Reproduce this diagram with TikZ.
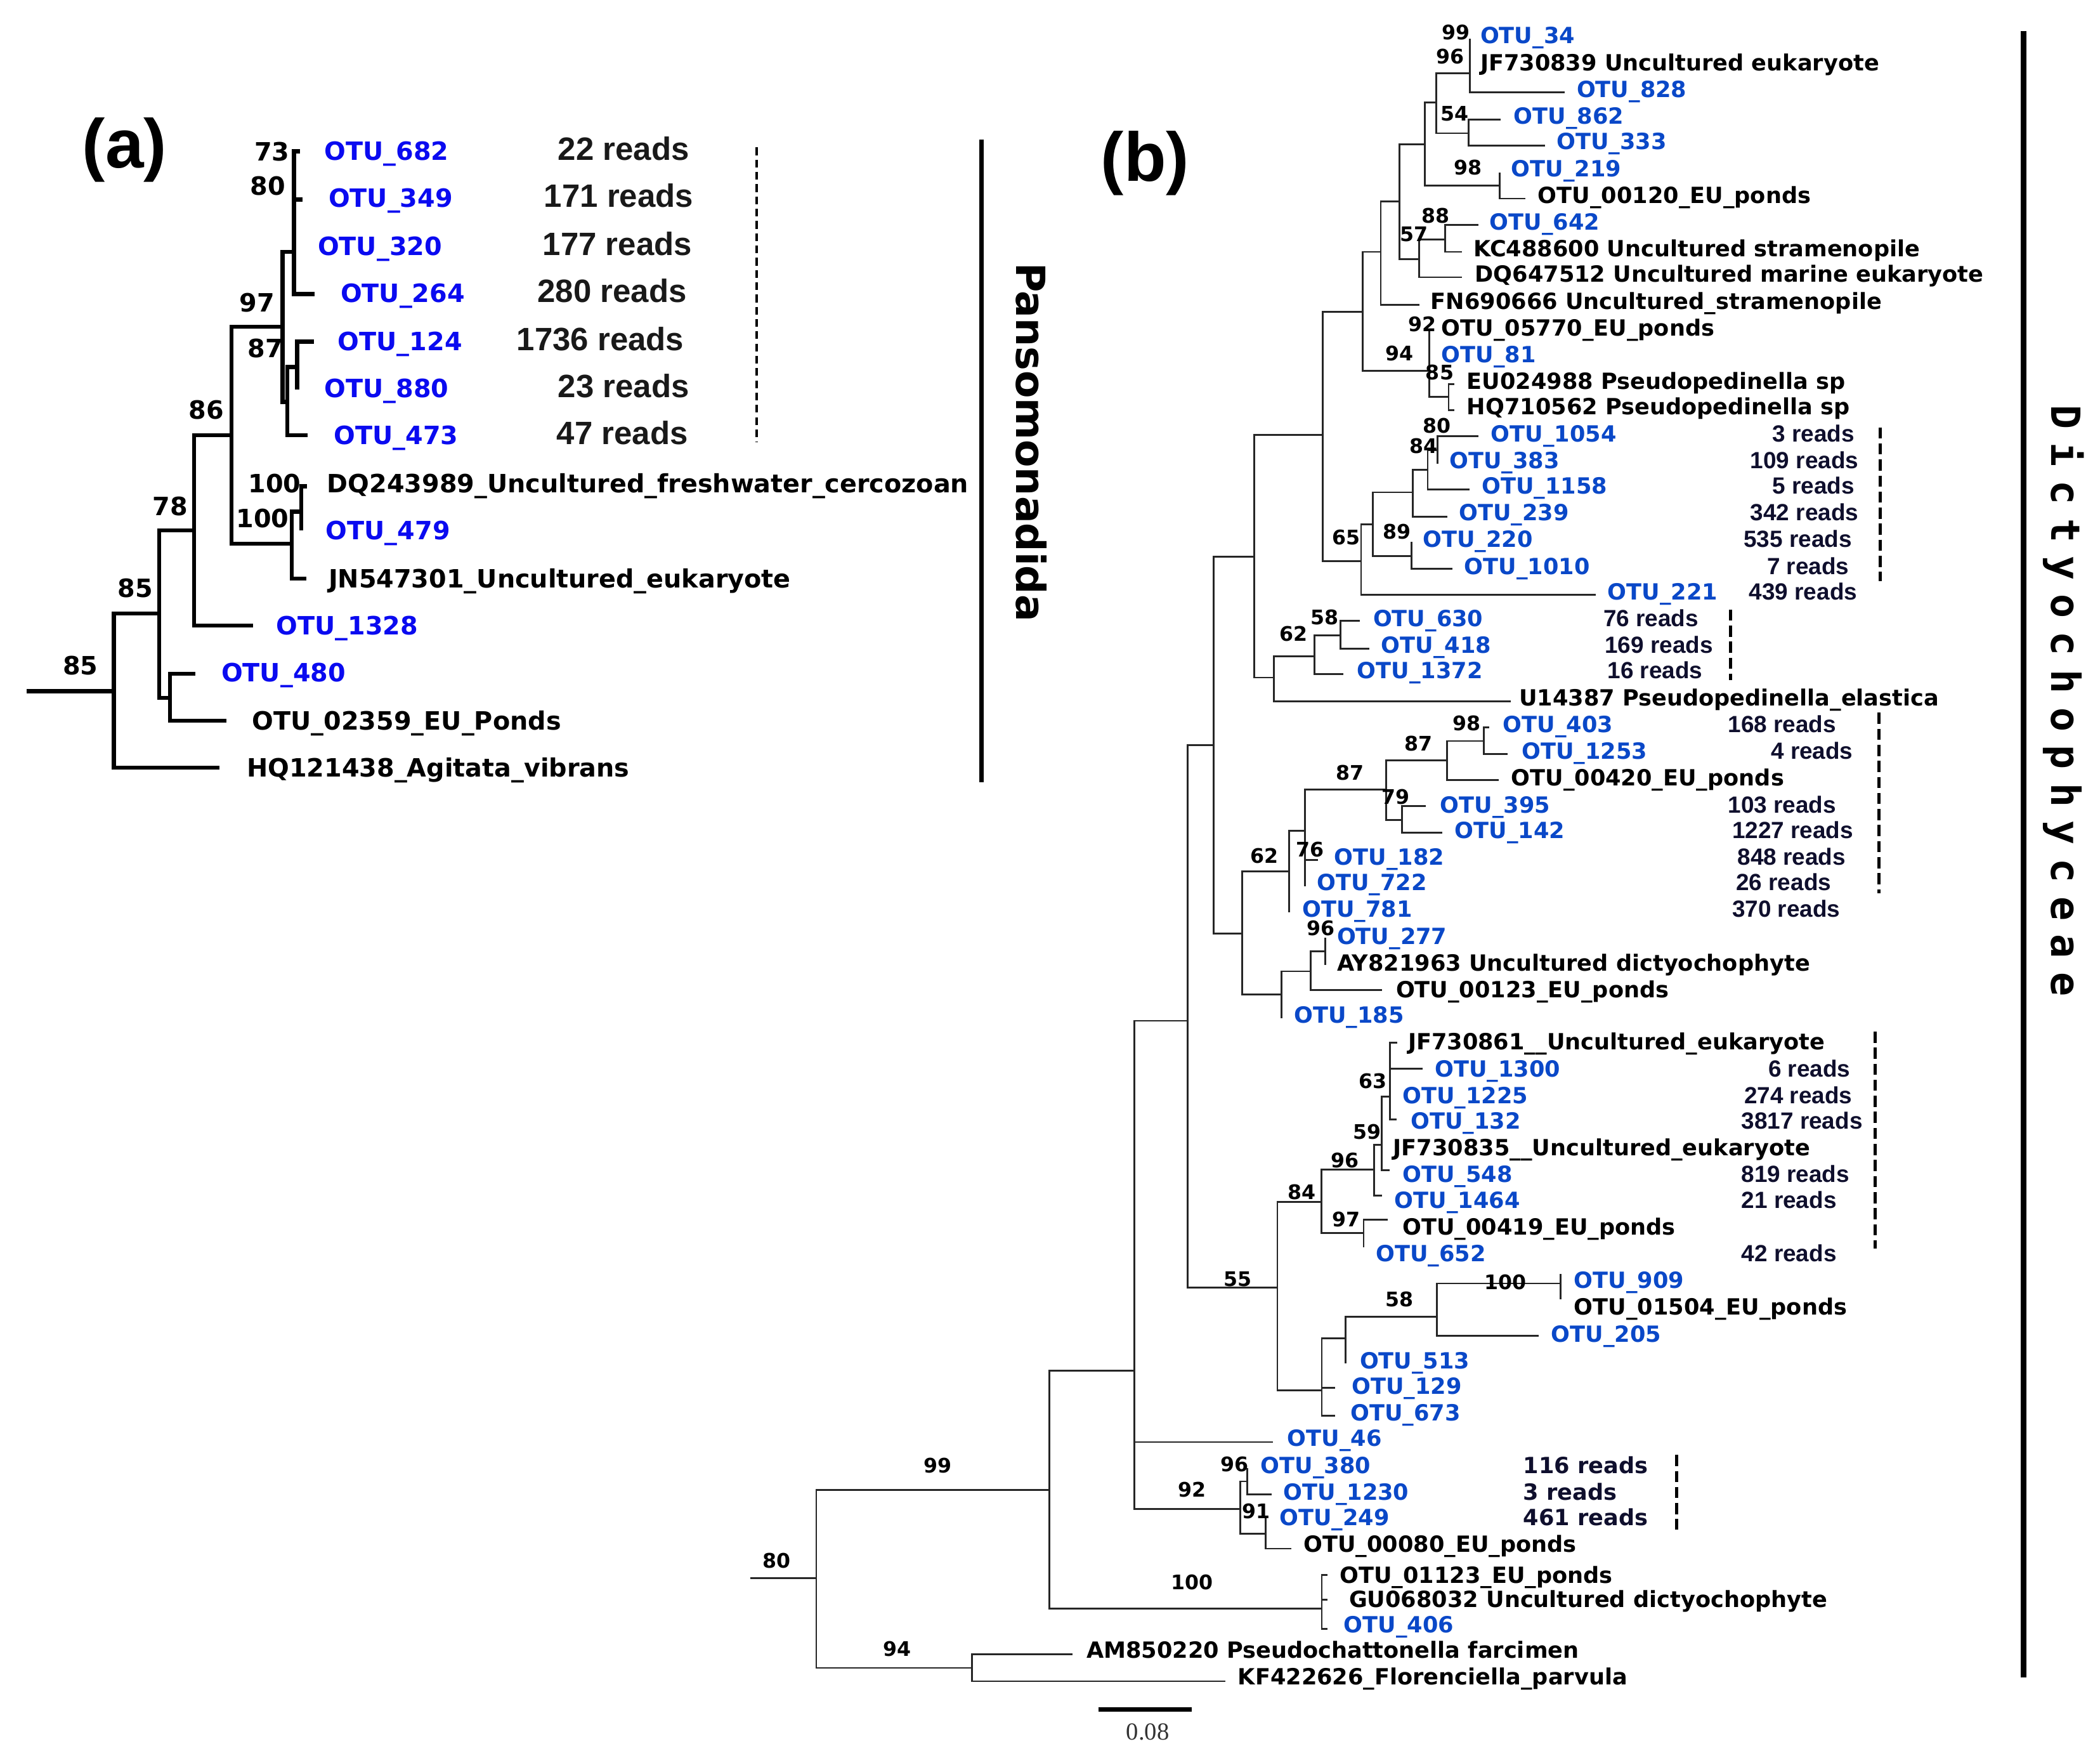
\documentclass[tikz,border=0pt]{standalone}
\usepackage{fontspec}
\setmainfont{DejaVu Sans}
\newfontfamily\libsans{Liberation Sans}
\newfontfamily\libserif{Liberation Serif}
\newfontfamily\spacedmono[LetterSpace=34]{DejaVu Sans Mono}
\definecolor{blueA}{RGB}{10,10,240}
\definecolor{blueB}{RGB}{10,72,200}
\definecolor{navyB}{RGB}{15,15,45}
\tikzset{
 brA/.style={line width=1.8pt},
 brB/.style={line width=0.8pt, black!85},
 labA/.style={inner sep=0pt, anchor=mid west, yshift=-0.045cm, font=\fontsize{11.3}{13}\selectfont\bfseries},
 otuA/.style={labA, text=blueA},
 rdA/.style={inner sep=0pt, anchor=mid east, yshift=-0.045cm, font=\libsans\fontsize{14.5}{16}\selectfont\bfseries, text=black!90},
 bsA/.style={inner sep=0pt, font=\fontsize{11.3}{13}\selectfont\bfseries},
 labB/.style={inner sep=0pt, anchor=mid west, yshift=-0.045cm, font=\fontsize{10}{12}\selectfont\bfseries},
 otuB/.style={labB, text=blueB},
 rdB/.style={inner sep=0pt, anchor=mid west, yshift=-0.045cm, font=\libsans\fontsize{10.5}{12}\selectfont\bfseries, text=navyB},
 rdBe/.style={rdB, anchor=mid east},
 rdBd/.style={labB, text=navyB},
 bsB/.style={inner sep=0pt, font=\fontsize{9}{11}\selectfont\bfseries},
 dashA/.style={line width=1.2pt, dash pattern=on 3.5pt off 2pt},
 dashB/.style={line width=1.5pt, dash pattern=on 5pt off 2.2pt},
 cladebar/.style={line width=2.4pt},
 title/.style={inner sep=0pt, font=\libsans\fontsize{31}{34}\selectfont\bfseries},
}
\begin{document}
\begin{tikzpicture}[x=0.021116cm,y=-0.021116cm]
\fill[white] (0,0) rectangle (1568,1312);
\useasboundingbox (0,0) rectangle (1568,1312);

% ================= (a) =================
\node[title] (ta) at (93,112) {(a)};
\coordinate (aR) at (20,516);
\coordinate (an85) at (85,516);
\coordinate (an85b) at (119,458);
\coordinate (an127) at (127,521);
\coordinate (an78) at (145,396);
\coordinate (an86) at (173,325);
\coordinate (an100) at (218,406);
\coordinate (an100b) at (225,382);
\coordinate (an97) at (211,244);
\coordinate (anU) at (219.5,188);
\coordinate (an87) at (214.5,300);
\coordinate (an221) at (221.8,274);
\coordinate (at682) at (224,113);
\coordinate (at349) at (226,149);
\coordinate (at320) at (219.5,184);
\coordinate (at264) at (235,219.5);
\coordinate (at124) at (234.6,255);
\coordinate (at880) at (221.8,291);
\coordinate (at473) at (229.5,325);
\coordinate (atDQ) at (229,363);
\coordinate (at479) at (225,396);
\coordinate (atJN) at (228.5,432);
\coordinate (at1328) at (189,467);
\coordinate (at480) at (146,503);
\coordinate (at02359) at (169,538);
\coordinate (atHQ) at (164,573);

\draw[brA] (aR) -- (an85);
\draw[brA] (an85) |- (an85b) (an85) |- (atHQ);
\draw[brA] (an85b) |- (an78) (an85b) |- (an127);
\draw[brA] (an127) |- (at480) (an127) |- (at02359);
\draw[brA] (an78) |- (an86) (an78) |- (at1328);
\draw[brA] (an86) |- (an97) (an86) |- (an100);
\draw[brA] (an100) |- (an100b) (an100) |- (atJN);
\draw[brA] (an100b) |- (atDQ) (an100b) |- (at479);
\draw[brA] (an97) |- (anU) (an97) |- (an87);
\draw[brA] (anU) |- (at682) (anU) |- (at349) (anU) |- (at320) (anU) |- (at264);
\draw[brA] (an87) |- (an221) (an87) |- (at473);
\draw[brA] (an221) |- (at124) (an221) |- (at880);

\node[otuA] (aL682) at (242,113) {OTU\_682};
\node[otuA] (aL349) at (245,148) {OTU\_349};
\node[otuA] (aL320) at (237,184) {OTU\_320};
\node[otuA] (aL264) at (254,219) {OTU\_264};
\node[otuA] (aL124) at (252,255) {OTU\_124};
\node[otuA] (aL880) at (242,290) {OTU\_880};
\node[otuA] (aL473) at (249,325) {OTU\_473};
\node[labA] (aLDQ) at (244,361) {DQ243989\_Uncultured\_freshwater\_cercozoan};
\node[otuA] (aL479) at (243,396) {OTU\_479};
\node[labA] (aLJN) at (245,432) {JN547301\_Uncultured\_eukaryote};
\node[otuA] (aL1328) at (206,467) {OTU\_1328};
\node[otuA] (aL480) at (165,502) {OTU\_480};
\node[labA] (aL02359) at (188,538) {OTU\_02359\_EU\_Ponds};
\node[labA] (aLHQ) at (184,573) {HQ121438\_Agitata\_vibrans};

\node[rdA] (aR682) at (515,113) {22 reads};
\node[rdA] (aR349) at (518,148) {171 reads};
\node[rdA] (aR320) at (517,184) {177 reads};
\node[rdA] (aR264) at (513,219) {280 reads};
\node[rdA] (aR124) at (511,255) {1736 reads};
\node[rdA] (aR880) at (515,290) {23 reads};
\node[rdA] (aR473) at (514,325) {47 reads};

\node[bsA] (abs1) at (60,497) {85};
\node[bsA] (abs2) at (101,439) {85};
\node[bsA] (abs3) at (127,378) {78};
\node[bsA] (abs4) at (154,306) {86};
\node[bsA] (abs5) at (192,226) {97};
\node[bsA] (abs6) at (198,260) {87};
\node[bsA] (abs7) at (203,113) {73};
\node[bsA] (abs8) at (200,139) {80};
\node[bsA] (abs9) at (205,361) {100};
\node[bsA] (abs10) at (196,387) {100};

\coordinate (adash1) at (565,110); \coordinate (adash2) at (565,330);
\draw[dashA] (adash1) -- (adash2);
\coordinate (abar1) at (733,104); \coordinate (abar2) at (733,584);
\draw[line width=2pt] (abar1) -- (abar2);
\node[inner sep=0pt, rotate=-90, font=\fontsize{18}{20}\selectfont\bfseries] (aclade) at (770,330) {Pansomonadida};

% ================= (b) =================
\node[title] (tb) at (855,122) {(b)};
\coordinate (bR) at (560,1178);
\coordinate (bn80) at (609.5,1178);
\coordinate (bn94) at (725.9,1245);
\coordinate (bn99) at (783.5,1112);
\coordinate (bn100b) at (986.9,1200.6);
\coordinate (bn846) at (847.1,1023);
\coordinate (bn886) at (886.8,762);
\coordinate (bn92) at (926,1126.5);
\coordinate (bn96c) at (931.4,1105.8);
\coordinate (bn91) at (945,1145);
\coordinate (bn55) at (953.8,961.1);
\coordinate (bn987) at (986.9,1037.9);
\coordinate (bn1005) at (1004.8,999.1);
\coordinate (bn58) at (1072.7,982.8);
\coordinate (bn100c) at (1165.4,958);
\coordinate (bn84) at (986.5,897);
\coordinate (bn97) at (1018.2,920.3);
\coordinate (bn96d) at (1025.9,873.2);
\coordinate (bn59) at (1031.8,854.7);
\coordinate (bn63) at (1037.7,818.4);
\coordinate (bn906) at (906.3,556.2);
\coordinate (bn927) at (927.6,696.8);
\coordinate (bn957) at (957,742.3);
\coordinate (bn979) at (978.8,725);
\coordinate (bn96e) at (989.6,710);
\coordinate (bn62b) at (962.5,650.4);
\coordinate (bn76) at (974.2,620.1);
\coordinate (bn87b) at (1035,589.2);
\coordinate (bn79) at (1046.7,612);
\coordinate (bn87c) at (1080.4,567.7);
\coordinate (bn98b) at (1107.9,553.1);
\coordinate (bn936) at (936.5,415.4);
\coordinate (bn951) at (951,505.8);
\coordinate (bn62c) at (981.5,489.8);
\coordinate (bn58b) at (1000.8,474.2);
\coordinate (bn988) at (987.7,324.5);
\coordinate (bn65) at (1016.3,418.7);
\coordinate (bn1025) at (1025,391.3);
\coordinate (bn89) at (1054,415);
\coordinate (bn1055) at (1055,367.5);
\coordinate (bn84b) at (1066,350.8);
\coordinate (bn80b) at (1073.3,335.9);
\coordinate (bn1017) at (1017.4,232.6);
\coordinate (bn94b) at (1067,276.8);
\coordinate (bn85) at (1081.6,296.4);
\coordinate (bn1031) at (1031,188);
\coordinate (bn1045) at (1045,150.2);
\coordinate (bn57) at (1059.6,193.4);
\coordinate (bn88) at (1079,178.6);
\coordinate (bn1064) at (1064,107.6);
\coordinate (bn98) at (1119.7,138.4);
\coordinate (bn1072) at (1072.5,76.6);
\coordinate (bn54) at (1096.5,99.5);
\coordinate (bn96) at (1097.3,54.6);

% tips
\coordinate (btAM) at (800.9,1235);
\coordinate (btKF) at (915.1,1255);
\coordinate (bt01123) at (991,1175.5);
\coordinate (btGU) at (991,1194);
\coordinate (bt406) at (991,1215.8);
\coordinate (bt46) at (950.4,1076.4);
\coordinate (bt380) at (931.4,1096);
\coordinate (bt1230) at (949.3,1115.6);
\coordinate (bt249) at (945,1132);
\coordinate (bt00080) at (964,1156);
\coordinate (bt513) at (1004.8,1017.6);
\coordinate (bt129) at (997,1036);
\coordinate (bt673) at (997,1056.8);
\coordinate (bt205) at (1148.9,997);
\coordinate (bt909) at (1165.4,951);
\coordinate (bt01504) at (1165.4,970);
\coordinate (bt00419) at (1036.3,910.5);
\coordinate (bt652) at (1018.2,930.9);
\coordinate (bt1464) at (1031.8,892.4);
\coordinate (btJF835) at (1031.8,856);
\coordinate (bt548) at (1037.7,873.5);
\coordinate (btJF861) at (1043.1,778.4);
\coordinate (bt1300) at (1062.1,797.7);
\coordinate (bt1225) at (1037.7,817);
\coordinate (bt132) at (1043,835.8);
\coordinate (bt185) at (957,760.3);
\coordinate (bt00123) at (1031.8,739);
\coordinate (bt277) at (989.6,699.9);
\coordinate (btAY) at (989.6,720.3);
\coordinate (bt781) at (962.5,681);
\coordinate (bt182) at (984.2,641.8);
\coordinate (bt722) at (974.2,661.4);
\coordinate (bt395) at (1064.8,601.8);
\coordinate (bt142) at (1077.1,621.4);
\coordinate (bt00420) at (1119.2,582.1);
\coordinate (bt403) at (1112,542.9);
\coordinate (bt1253) at (1125.5,563);
\coordinate (btU14) at (1127.9,523.6);
\coordinate (bt1372) at (1003,503.3);
\coordinate (bt630) at (1015.3,463.5);
\coordinate (bt418) at (1022.5,484.4);
\coordinate (bt221) at (1191.7,444.1);
\coordinate (bt220) at (1054,404.4);
\coordinate (bt1010) at (1084.4,424.7);
\coordinate (bt239) at (1080.5,385.8);
\coordinate (bt1158) at (1097.4,365.5);
\coordinate (bt1054) at (1103.7,325.7);
\coordinate (bt383) at (1073.3,346);
\coordinate (bt05770) at (1067,246.4);
\coordinate (bt81) at (1067,264);
\coordinate (btEU) at (1086,286.6);
\coordinate (btHQ) at (1086,306);
\coordinate (btFN) at (1059.7,227.7);
\coordinate (btDQ) at (1091.4,207);
\coordinate (bt642) at (1104,167.8);
\coordinate (btKC) at (1091.4,188);
\coordinate (bt219) at (1119.7,128.6);
\coordinate (bt00120) at (1138.7,148.2);
\coordinate (bt862) at (1120.6,89.3);
\coordinate (bt333) at (1153.5,108.6);
\coordinate (bt34) at (1097.3,29);
\coordinate (btJF839) at (1097.3,49);
\coordinate (bt828) at (1168.3,69);

% branches
\draw[brB] (bR) -- (bn80);
\draw[brB] (bn80) |- (bn99) (bn80) |- (bn94);
\draw[brB] (bn94) |- (btAM) (bn94) |- (btKF);
\draw[brB] (bn99) |- (bn846) (bn99) |- (bn100b);
\draw[brB] (bn100b) |- (bt01123) (bn100b) |- (btGU) (bn100b) |- (bt406);
\draw[brB] (bn846) |- (bn886) (bn846) |- (bt46) (bn846) |- (bn92);
\draw[brB] (bn92) |- (bn96c) (bn92) |- (bn91);
\draw[brB] (bn96c) |- (bt380) (bn96c) |- (bt1230);
\draw[brB] (bn91) |- (bt249) (bn91) |- (bt00080);
\draw[brB] (bn886) |- (bn906) (bn886) |- (bn55);
\draw[brB] (bn55) |- (bn84) (bn55) |- (bn987);
\draw[brB] (bn987) |- (bn1005) (bn987) |- (bt129) (bn987) |- (bt673);
\draw[brB] (bn1005) |- (bn58) (bn1005) |- (bt513);
\draw[brB] (bn58) |- (bn100c) (bn58) |- (bt205);
\draw[brB] (bn100c) |- (bt909) (bn100c) |- (bt01504);
\draw[brB] (bn84) |- (bn96d) (bn84) |- (bn97);
\draw[brB] (bn97) |- (bt00419) (bn97) |- (bt652);
\draw[brB] (bn96d) |- (bn59) (bn96d) |- (bt1464);
\draw[brB] (bn59) |- (bn63) (bn59) |- (btJF835) (bn59) |- (bt548);
\draw[brB] (bn63) |- (btJF861) (bn63) |- (bt1300) (bn63) |- (bt1225) (bn63) |- (bt132);
\draw[brB] (bn906) |- (bn936) (bn906) |- (bn927);
\draw[brB] (bn927) |- (bn62b) (bn927) |- (bn957);
\draw[brB] (bn957) |- (bn979) (bn957) |- (bt185);
\draw[brB] (bn979) |- (bn96e) (bn979) |- (bt00123);
\draw[brB] (bn96e) |- (bt277) (bn96e) |- (btAY);
\draw[brB] (bn62b) |- (bn76) (bn62b) |- (bt781);
\draw[brB] (bn76) |- (bn87b) (bn76) |- (bt182) (bn76) |- (bt722);
\draw[brB] (bn87b) |- (bn87c) (bn87b) |- (bn79);
\draw[brB] (bn79) |- (bt395) (bn79) |- (bt142);
\draw[brB] (bn87c) |- (bn98b) (bn87c) |- (bt00420);
\draw[brB] (bn98b) |- (bt403) (bn98b) |- (bt1253);
\draw[brB] (bn936) |- (bn988) (bn936) |- (bn951);
\draw[brB] (bn951) |- (bn62c) (bn951) |- (btU14);
\draw[brB] (bn62c) |- (bn58b) (bn62c) |- (bt1372);
\draw[brB] (bn58b) |- (bt630) (bn58b) |- (bt418);
\draw[brB] (bn988) |- (bn1017) (bn988) |- (bn65);
\draw[brB] (bn65) |- (bn1025) (bn65) |- (bt221);
\draw[brB] (bn1025) |- (bn1055) (bn1025) |- (bn89);
\draw[brB] (bn89) |- (bt220) (bn89) |- (bt1010);
\draw[brB] (bn1055) |- (bn84b) (bn1055) |- (bt239);
\draw[brB] (bn84b) |- (bn80b) (bn84b) |- (bt1158);
\draw[brB] (bn80b) |- (bt1054) (bn80b) |- (bt383);
\draw[brB] (bn1017) |- (bn1031) (bn1017) |- (bn94b);
\draw[brB] (bn94b) |- (bt05770) (bn94b) |- (bt81) (bn94b) |- (bn85);
\draw[brB] (bn85) |- (btEU) (bn85) |- (btHQ);
\draw[brB] (bn1031) |- (bn1045) (bn1031) |- (btFN);
\draw[brB] (bn1045) |- (bn1064) (bn1045) |- (bn57);
\draw[brB] (bn57) |- (bn88) (bn57) |- (btDQ);
\draw[brB] (bn88) |- (bt642) (bn88) |- (btKC);
\draw[brB] (bn1064) |- (bn1072) (bn1064) |- (bn98);
\draw[brB] (bn98) |- (bt219) (bn98) |- (bt00120);
\draw[brB] (bn1072) |- (bn96) (bn1072) |- (bn54);
\draw[brB] (bn54) |- (bt862) (bn54) |- (bt333);
\draw[brB] (bn96) |- (bt34) (bn96) |- (btJF839) (bn96) |- (bt828);

% leaf labels
\node[otuB] (bL34) at (1105,26) {OTU\_34};
\node[labB] (bLJF839) at (1105,46) {JF730839 Uncultured eukaryote};
\node[otuB] (bL828) at (1177,66) {OTU\_828};
\node[otuB] (bL862) at (1130,86) {OTU\_862};
\node[otuB] (bL333) at (1162,105) {OTU\_333};
\node[otuB] (bL219) at (1128,125) {OTU\_219};
\node[labB] (bL00120) at (1148,145) {OTU\_00120\_EU\_ponds};
\node[otuB] (bL642) at (1112,165) {OTU\_642};
\node[labB] (bLKC) at (1100,185) {KC488600 Uncultured stramenopile};
\node[labB] (bLDQ) at (1101,204) {DQ647512 Uncultured marine eukaryote};
\node[labB] (bLFN) at (1068,224) {FN690666 Uncultured\_stramenopile};
\node[labB] (bL05770) at (1076,244) {OTU\_05770\_EU\_ponds};
\node[otuB] (bL81) at (1076,264) {OTU\_81};
\node[labB] (bLEU) at (1095,284) {EU024988 Pseudopedinella sp};
\node[labB] (bLHQ) at (1095,303) {HQ710562 Pseudopedinella sp};
\node[otuB] (bL1054) at (1113,323) {OTU\_1054};
\node[otuB] (bL383) at (1082,343) {OTU\_383};
\node[otuB] (bL1158) at (1106,362) {OTU\_1158};
\node[otuB] (bL239) at (1089,382) {OTU\_239};
\node[otuB] (bL220) at (1062,402) {OTU\_220};
\node[otuB] (bL1010) at (1093,422) {OTU\_1010};
\node[otuB] (bL221) at (1200,441) {OTU\_221};
\node[otuB] (bL630) at (1025,461) {OTU\_630};
\node[otuB] (bL418) at (1031,481) {OTU\_418};
\node[otuB] (bL1372) at (1013,500) {OTU\_1372};
\node[labB] (bLU14) at (1134,520) {U14387 Pseudopedinella\_elastica};
\node[otuB] (bL403) at (1122,540) {OTU\_403};
\node[otuB] (bL1253) at (1136,560) {OTU\_1253};
\node[labB] (bL00420) at (1128,580) {OTU\_00420\_EU\_ponds};
\node[otuB] (bL395) at (1075,600) {OTU\_395};
\node[otuB] (bL142) at (1086,619) {OTU\_142};
\node[otuB] (bL182) at (996,639) {OTU\_182};
\node[otuB] (bL722) at (983,658) {OTU\_722};
\node[otuB] (bL781) at (972,678) {OTU\_781};
\node[otuB] (bL277) at (998,698) {OTU\_277};
\node[labB] (bLAY) at (998,718) {AY821963 Uncultured dictyochophyte};
\node[labB] (bL00123) at (1042,738) {OTU\_00123\_EU\_ponds};
\node[otuB] (bL185) at (966,757) {OTU\_185};
\node[labB] (bLJF861) at (1051,777) {JF730861\_\_Uncultured\_eukaryote};
\node[otuB] (bL1300) at (1071,797) {OTU\_1300};
\node[otuB] (bL1225) at (1047,817) {OTU\_1225};
\node[otuB] (bL132) at (1053,836) {OTU\_132};
\node[labB] (bLJF835) at (1040,856) {JF730835\_\_Uncultured\_eukaryote};
\node[otuB] (bL548) at (1047,876) {OTU\_548};
\node[otuB] (bL1464) at (1041,895) {OTU\_1464};
\node[labB] (bL00419) at (1047,915) {OTU\_00419\_EU\_ponds};
\node[otuB] (bL652) at (1027,935) {OTU\_652};
\node[otuB] (bL909) at (1175,955) {OTU\_909};
\node[labB] (bL01504) at (1175,975) {OTU\_01504\_EU\_ponds};
\node[otuB] (bL205) at (1158,995) {OTU\_205};
\node[otuB] (bL513) at (1015,1015) {OTU\_513};
\node[otuB] (bL129) at (1009,1034) {OTU\_129};
\node[otuB] (bL673) at (1008,1054) {OTU\_673};
\node[otuB] (bL46) at (961,1073) {OTU\_46};
\node[otuB] (bL380) at (941,1093) {OTU\_380};
\node[otuB] (bL1230) at (958,1113) {OTU\_1230};
\node[otuB] (bL249) at (955,1132) {OTU\_249};
\node[labB] (bL00080) at (973,1152) {OTU\_00080\_EU\_ponds};
\node[labB] (bL01123) at (1000,1175) {OTU\_01123\_EU\_ponds};
\node[labB] (bLGU) at (1007,1193) {GU068032 Uncultured dictyochophyte};
\node[otuB] (bL406) at (1003,1212) {OTU\_406};
\node[labB] (bLAM) at (811,1231) {AM850220 Pseudochattonella farcimen};
\node[labB] (bLKF) at (924,1251) {KF422626\_Florenciella\_parvula};

% reads
\node[rdBe] (bR1054) at (1385,323) {3 reads};
\node[rdBe] (bR383) at (1388,343) {109 reads};
\node[rdBe] (bR1158) at (1385,362) {5 reads};
\node[rdBe] (bR239) at (1388,382) {342 reads};
\node[rdBe] (bR220) at (1383,402) {535 reads};
\node[rdBe] (bR1010) at (1381,422) {7 reads};
\node[rdBe] (bR221) at (1387,441) {439 reads};
\node[rdB] (bR630) at (1197,461) {76 reads};
\node[rdB] (bR418) at (1198,481) {169 reads};
\node[rdB] (bR1372) at (1200,500) {16 reads};
\node[rdB] (bR403) at (1290,540) {168 reads};
\node[rdB] (bR1253) at (1322,560) {4 reads};
\node[rdB] (bR395) at (1290,600) {103 reads};
\node[rdB] (bR142) at (1293,619) {1227 reads};
\node[rdB] (bR182) at (1297,639) {848 reads};
\node[rdB] (bR722) at (1296,658) {26 reads};
\node[rdB] (bR781) at (1293,678) {370 reads};
\node[rdB] (bR1300) at (1320,797) {6 reads};
\node[rdB] (bR1225) at (1302,817) {274 reads};
\node[rdB] (bR132) at (1300,836) {3817 reads};
\node[rdB] (bR548) at (1300,876) {819 reads};
\node[rdB] (bR1464) at (1300,895) {21 reads};
\node[rdB] (bR652) at (1300,935) {42 reads};
\node[rdBd] (bR380) at (1137,1093) {116 reads};
\node[rdBd] (bR1230) at (1137,1113) {3 reads};
\node[rdBd] (bR249) at (1137,1132) {461 reads};

% bootstrap values
\node[bsB] (bb1) at (1087,24) {99};
\node[bsB] (bb2) at (1083,42) {96};
\node[bsB] (bb3) at (1086,85) {54};
\node[bsB] (bb4) at (1096,125) {98};
\node[bsB] (bb5) at (1072,161) {88};
\node[bsB] (bb6) at (1056,175) {57};
\node[bsB] (bb7) at (1062,242) {92};
\node[bsB] (bb8) at (1045,264) {94};
\node[bsB] (bb9) at (1075,278) {85};
\node[bsB] (bb10) at (1073,318) {80};
\node[bsB] (bb11) at (1063,333) {84};
\node[bsB] (bb12) at (1043,397) {89};
\node[bsB] (bb13) at (1005,401) {65};
\node[bsB] (bb14) at (989,461) {58};
\node[bsB] (bb15) at (966,473) {62};
\node[bsB] (bb16) at (1095,540) {98};
\node[bsB] (bb17) at (1059,555) {87};
\node[bsB] (bb18) at (1008,577) {87};
\node[bsB] (bb19) at (1042,595) {79};
\node[bsB] (bb20) at (978,634) {76};
\node[bsB] (bb21) at (944,639) {62};
\node[bsB] (bb22) at (986,693) {96};
\node[bsB] (bb23) at (1025,807) {63};
\node[bsB] (bb24) at (1021,845) {59};
\node[bsB] (bb25) at (1004,866) {96};
\node[bsB] (bb26) at (972,890) {84};
\node[bsB] (bb27) at (1005,910) {97};
\node[bsB] (bb28) at (1124,957) {100};
\node[bsB] (bb29) at (924,955) {55};
\node[bsB] (bb30) at (1045,970) {58};
\node[bsB] (bb31) at (922,1093) {96};
\node[bsB] (bb32) at (890,1112) {92};
\node[bsB] (bb33) at (938,1128) {91};
\node[bsB] (bb34) at (700,1094) {99};
\node[bsB] (bb35) at (890,1181) {100};
\node[bsB] (bb36) at (580,1165) {80};
\node[bsB] (bb37) at (670,1231) {94};

% dashed brackets
\coordinate (bd1a) at (1404,319); \coordinate (bd1b) at (1404,434);
\coordinate (bd2a) at (1292,455); \coordinate (bd2b) at (1292,507.5);
\coordinate (bd3a) at (1403,532); \coordinate (bd3b) at (1403,667);
\coordinate (bd4a) at (1400,770); \coordinate (bd4b) at (1400,932);
\coordinate (bd5a) at (1252,1086); \coordinate (bd5b) at (1252,1142);
\draw[dashB] (bd1a) -- (bd1b);
\draw[dashB] (bd2a) -- (bd2b);
\draw[dashB] (bd3a) -- (bd3b);
\draw[dashB] (bd4a) -- (bd4b);
\draw[dashB] (bd5a) -- (bd5b);

% clade bar
\coordinate (bbar1) at (1511,23); \coordinate (bbar2) at (1511,1252);
\draw[cladebar] (bbar1) -- (bbar2);
\node[inner sep=0pt, rotate=-90, font=\spacedmono\fontsize{18}{20}\selectfont\bfseries] (bclade) at (1541,523) {Dictyochophyceae};

% scale bar
\coordinate (bs1) at (820,1276); \coordinate (bs2) at (890,1276);
\draw[line width=1.8pt] (bs1) -- (bs2);
\node[inner sep=0pt, font=\libserif\fontsize{11}{13}\selectfont, text=black!80] (bscale) at (857,1293) {0.08};
\end{tikzpicture}
\end{document}
